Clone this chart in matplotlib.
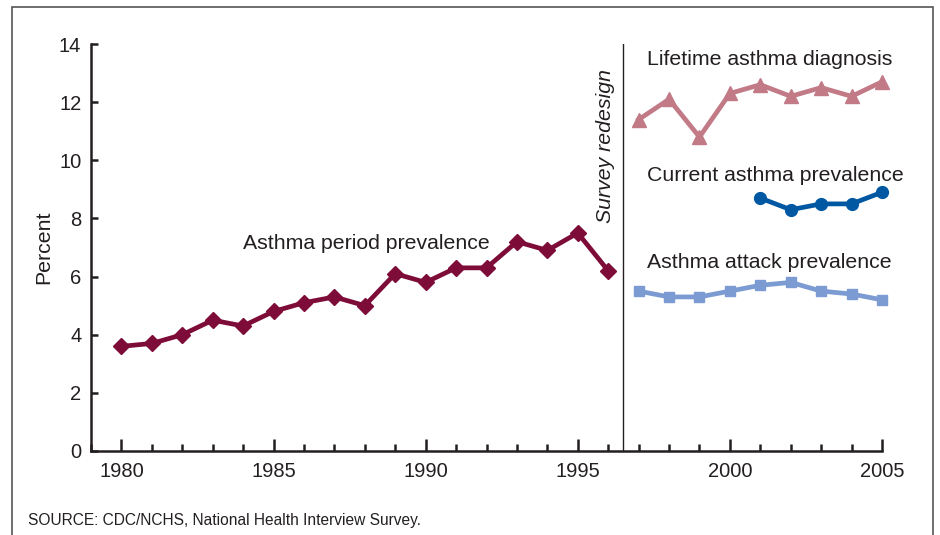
import matplotlib
matplotlib.use("Agg")
import matplotlib.pyplot as plt
from matplotlib.patches import Rectangle
from matplotlib.ticker import MultipleLocator

plt.rcParams['font.family'] = ['Liberation Sans', 'DejaVu Sans']

# data
period_years = list(range(1980, 1997))
period_prev = [3.6, 3.7, 4.0, 4.5, 4.3, 4.8, 5.1, 5.3, 5.0, 6.1, 5.8, 6.3, 6.3, 7.2, 6.9, 7.5, 6.2]

new_years = list(range(1997, 2006))
lifetime_diag = [11.4, 12.1, 10.8, 12.3, 12.6, 12.2, 12.5, 12.2, 12.7]
attack_prev = [5.5, 5.3, 5.3, 5.5, 5.7, 5.8, 5.5, 5.4, 5.2]

current_years = list(range(2001, 2006))
current_prev = [8.7, 8.3, 8.5, 8.5, 8.9]

redesign_year = 1996.5
text_col = '#231f20'
fs = 15.3

fig = plt.figure(figsize=(9.4, 5.35), dpi=100)
ax = fig.add_axes([91/940, 1-451/535, (882-91)/940, (451-44)/535])

ax.plot(period_years, period_prev, color='#7d0c38', lw=3.4, marker='D', ms=8, clip_on=False)
ax.plot(new_years, lifetime_diag, color='#c17a86', lw=3.4, marker='^', ms=10, clip_on=False)
ax.plot(current_years, current_prev, color='#0058a3', lw=3.4, marker='o', ms=8.5, clip_on=False)
ax.plot(new_years, attack_prev, color='#7b9bd2', lw=3.4, marker='s', ms=7.5, clip_on=False)

ax.axvline(redesign_year, color=text_col, lw=1.0)

ax.set_xlim(1979, 2005)
ax.set_ylim(0, 14)
ax.xaxis.set_major_locator(MultipleLocator(5))
ax.xaxis.set_minor_locator(MultipleLocator(1))
ax.yaxis.set_major_locator(MultipleLocator(2))
ax.spines['top'].set_visible(False)
ax.spines['right'].set_visible(False)
for s in ('left', 'bottom'):
    ax.spines[s].set_linewidth(1.8)
    ax.spines[s].set_color(text_col)
ax.tick_params(axis='x', which='major', direction='in', length=9, width=1.8, color=text_col,
               labelsize=14.5, labelcolor=text_col, pad=8)
ax.tick_params(axis='x', which='minor', direction='in', length=5, width=1.8, color=text_col)
ax.tick_params(axis='y', direction='in', length=5, width=1.8, color=text_col,
               labelsize=14.5, labelcolor=text_col, pad=7)
ax.set_ylabel('Percent', fontsize=fs, color=text_col, labelpad=4)

ax.text(1984.0, 7.15, 'Asthma period prevalence', fontsize=fs, color=text_col, va='center')
ax.text(1997.27, 13.45, 'Lifetime asthma diagnosis', fontsize=fs, color=text_col, va='center')
ax.text(1997.27, 9.49, 'Current asthma prevalence', fontsize=fs, color=text_col, va='center')
ax.text(1997.27, 6.47, 'Asthma attack prevalence', fontsize=fs, color=text_col, va='center')
ax.text(1995.92, 10.49, 'Survey redesign', fontsize=fs, color=text_col, style='italic',
        rotation=90, ha='center', va='center')

fig.text(28/940, 1-520/535, 'SOURCE: CDC/NCHS, National Health Interview Survey.',
         fontsize=11.2, color=text_col, va='center')

# frame around the figure
fig.patches.append(Rectangle((12/940, -0.05), (933-12)/940, 1.05-7/535, transform=fig.transFigure,
                             fill=False, edgecolor='#555555', lw=1.2))

fig.savefig('out.png', dpi=100)
